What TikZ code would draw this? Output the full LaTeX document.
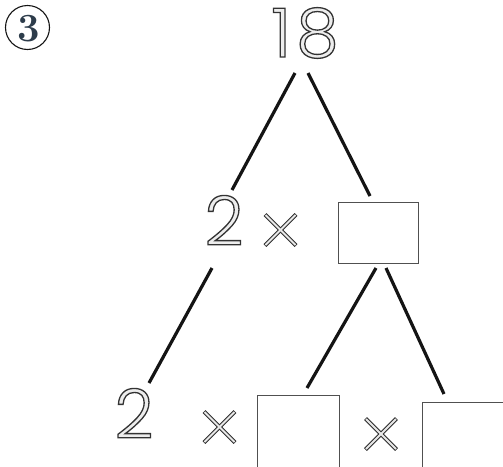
\documentclass[tikz,border=0pt]{standalone}
\usepackage{fontspec}
\newfontfamily\dig{Poppins Light}
\newcommand{\outl}[1]{\special{pdf:literal direct 2 Tr 1.3 w 0.2 0.2 0.2 RG 0.93 0.93 0.93 rg}#1\special{pdf:literal direct 0 Tr}}
\definecolor{ink}{RGB}{20,20,20}
\definecolor{numblue}{RGB}{45,60,75}
\definecolor{boxgray}{RGB}{80,80,80}
\begin{document}
\begin{tikzpicture}[x=1pt,y=-1pt,
  branch/.style={draw=ink,line width=3.2pt},
  digit/.style={inner sep=0pt,font=\dig\fontsize{68}{68}\selectfont},
  answerbox/.style={draw=boxgray,line width=0.9pt},
  xouter/.style={draw={rgb,255:red,45;green,45;blue,45},line width=4pt},
  xinner/.style={draw={rgb,255:red,232;green,232;blue,232},line width=2.1pt}]
\useasboundingbox (0,0) rectangle (503,466);
\clip (0,0) rectangle (503,466);
% circled number
\draw[ink,line width=1.1pt] (27.5,27.5) circle[radius=22pt];
\node[inner sep=0pt,font=\fontsize{40}{40}\selectfont\bfseries,text=numblue,anchor=base] (lbl) at (28.5,41.5) {3};
% numbers
\node[digit,anchor=base] (n18) at (305,57) {\outl{1\kern5pt 8}};
\node[digit,anchor=base] (m2) at (224,245) {\outl{2}};
\node[digit,anchor=base] (b2) at (134,438) {\outl{2}};
% boxes
\node[answerbox,minimum width=80pt,minimum height=61pt,inner sep=0pt] (mbox) at (378.5,232.5) {};
\node[answerbox,minimum width=82pt,minimum height=80pt,inner sep=0pt] (bbox1) at (298,435) {};
\node[answerbox,minimum width=81pt,minimum height=80pt,inner sep=0pt] (bbox2) at (462.5,442) {};
% times signs
\coordinate (x1) at (280.5,230);
\coordinate (x2) at (219.5,427);
\coordinate (x3) at (381,434);
\foreach \c in {x1,x2,x3}{
  \draw[xouter] ([shift={(-15.5,-15.5)}]\c) -- ([shift={(15.5,15.5)}]\c);
  \draw[xouter] ([shift={(-15.5,15.5)}]\c) -- ([shift={(15.5,-15.5)}]\c);
}
\foreach \c in {x1,x2,x3}{
  \draw[xinner] ([shift={(-15,-15)}]\c) -- ([shift={(15,15)}]\c);
  \draw[xinner] ([shift={(-15,15)}]\c) -- ([shift={(15,-15)}]\c);
}
% branches
\coordinate (t1) at (295,73);
\coordinate (t2) at (308,73);
\coordinate (e1) at (232,190);
\coordinate (e2) at (370,196);
\coordinate (l1) at (212,268);
\coordinate (l2) at (149,383);
\coordinate (r1) at (376,268);
\coordinate (r2) at (307,388);
\coordinate (s1) at (386,268);
\coordinate (s2) at (444,394);
\draw[branch] (t1) -- (e1);
\draw[branch] (t2) -- (e2);
\draw[branch] (l1) -- (l2);
\draw[branch] (r1) -- (r2);
\draw[branch] (s1) -- (s2);
\end{tikzpicture}
\end{document}
